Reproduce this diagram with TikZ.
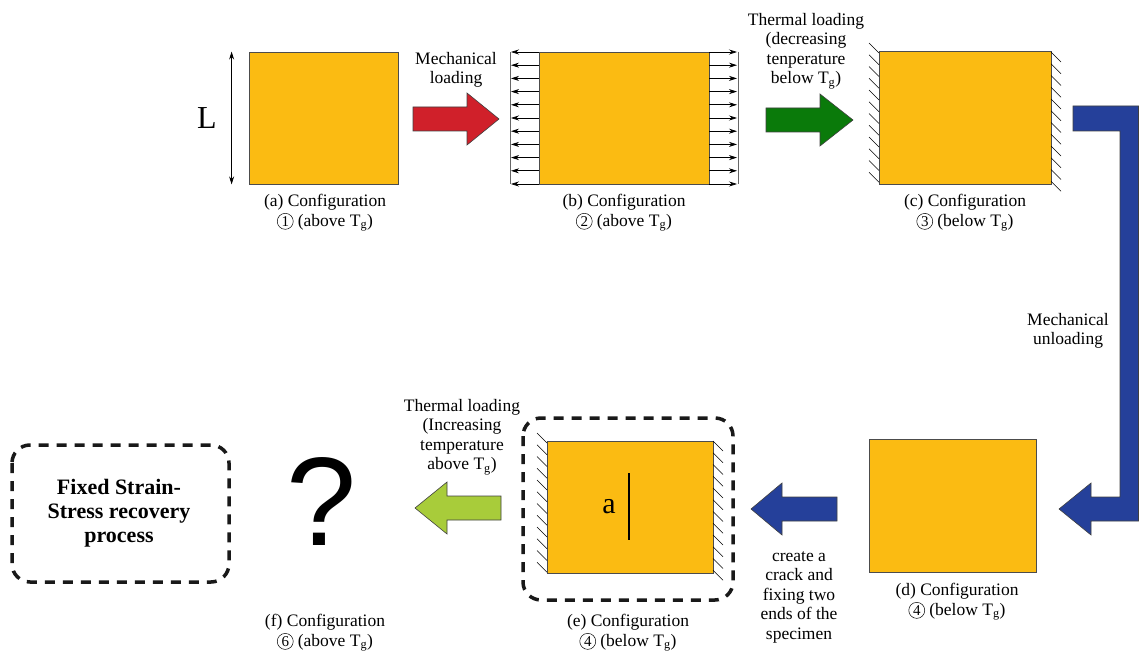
\documentclass[tikz,border=0pt]{standalone}
\usepackage{fontspec}
\setmainfont{Liberation Serif}
\newfontfamily\arialfont{Liberation Sans}
\usetikzlibrary{arrows.meta}
\definecolor{spec}{HTML}{FBBB12}
\definecolor{redarrow}{HTML}{D0202A}
\definecolor{greenarrow}{HTML}{0A7A0A}
\definecolor{lightgreen}{HTML}{A8CC3A}
\definecolor{bluearrow}{HTML}{25409A}
\newcommand{\cnum}[1]{\tikz[baseline=(cn.base)]\node[circle, draw, line width=0.5pt, inner sep=0.6pt, minimum size=16pt, font=\fontsize{15}{15}\selectfont] (cn) {#1};}
\newcommand{\Tg}{T\textsubscript{g}}
\begin{document}
\begin{tikzpicture}[x=1pt,y=-1pt,
  specbox/.style={draw=black!70, line width=0.8pt, fill=spec, inner sep=0pt},
  caption/.style={align=center, font=\fontsize{17.5}{19.5}\selectfont, inner sep=0pt},
  blockarrow/.style={draw=black!75, line width=0.6pt},
  pullarrow/.style={-{Stealth[length=8pt,width=5pt]}, line width=0.7pt},
  hatchline/.style={line width=0.5pt},
  dashedframe/.style={draw=black!90, line width=3.5pt, dash pattern=on 10pt off 8pt, rounded corners=18pt}
]
\useasboundingbox (0,0) rectangle (1139,652);

% specimens
\node[specbox, minimum width=149pt, minimum height=132pt] (a) at (323.5,118) {};
\node[specbox, minimum width=170pt, minimum height=132pt] (b) at (624,118) {};
\node[specbox, minimum width=172pt, minimum height=133pt] (c) at (965,117.5) {};
\node[specbox, minimum width=167pt, minimum height=133pt] (d) at (952.5,505.5) {};
\node[specbox, minimum width=166pt, minimum height=132pt] (e) at (630,507) {};

% L dimension
\draw[{Stealth[length=8pt,width=5pt]}-{Stealth[length=8pt,width=5pt]}, line width=0.7pt]
  ([xshift=-17pt]a.north west) -- ([xshift=-17pt]a.south west);
\node[font=\fontsize{32}{32}\selectfont] (Llab) at (207,118) {L};

% pulling arrows on b
\coordinate (bl) at (510,52);
\coordinate (br) at (738,52);
\draw[black!60, line width=0.8pt] (bl) -- (510,184);
\draw[black!60, line width=0.8pt] (br) -- (738,184);
\foreach \i in {0,...,10}{
  \draw[pullarrow] (539,52+\i*13.2) -- (511,52+\i*13.2);
  \draw[pullarrow] (709,52+\i*13.2) -- (737,52+\i*13.2);
}

% hatching on c
\foreach \i in {0,...,11}{
  \draw[hatchline] (869,43+\i*11.75) -- ++(10,10);
  \draw[hatchline] (1051,52+\i*11.75) -- ++(10,10);
}
% hatching on e
\foreach \i in {0,...,11}{
  \draw[hatchline] (537,433+\i*11.75) -- ++(10,10);
  \draw[hatchline] (713,441+\i*11.75) -- ++(10,10);
}

% crack
\coordinate (ct) at (629,473);
\coordinate (cb) at (629,540);
\draw[line width=1.6pt] (ct) -- (cb);
\node[font=\fontsize{30}{30}\selectfont] (alab) at (609,507) {a};

% dashed frames
\draw[dashedframe] (523,418) rectangle (733,600);
\draw[dashedframe] (12,445) rectangle (229,582);
\node[align=center, font=\fontsize{22}{24}\selectfont\bfseries, inner sep=0pt] (fixed) at (119,513) {Fixed Strain-\\Stress recovery\\process};

% question mark
\node[font=\arialfont\fontsize{126}{126}\selectfont, inner sep=0pt] (q) at (322,502) {?};

% block arrows
\draw[blockarrow, fill=redarrow] (413,107) -- (467,107) -- (467,93) -- (499,119) -- (467,145) -- (467,131) -- (413,131) -- cycle;
\draw[blockarrow, fill=greenarrow] (766,108) -- (820,108) -- (820,94) -- (853,120) -- (820,146) -- (820,132) -- (766,132) -- cycle;
\draw[blockarrow, fill=bluearrow] (837,497) -- (782,497) -- (782,483) -- (751,509) -- (782,535) -- (782,521) -- (837,521) -- cycle;
\draw[blockarrow, fill=lightgreen] (501,496) -- (447,496) -- (447,482) -- (415,508) -- (447,534) -- (447,520) -- (501,520) -- cycle;
\draw[blockarrow, fill=bluearrow] (1073,106) -- (1138.5,106) -- (1138.5,521) -- (1091,521) -- (1091,535) -- (1059,509) -- (1091,483) -- (1091,497) -- (1120,497) -- (1120,131) -- (1073,131) -- cycle;

% labels
\node[caption] (mlab) at (456,70) {Mechanical\\loading};
\node[caption] (tlab1) at (806,51) {Thermal loading\\(decreasing\\tenperature\\below \Tg)};
\node[caption] (ulab) at (1068,331) {Mechanical\\unloading};
\node[caption] (crlab) at (799,597) {create a\\crack and\\fixing two\\ends of the\\specimen};
\node[caption] (tlab2) at (462,437) {Thermal loading\\(Increasing\\temperature\\above \Tg)};

% captions
\node[caption] (capa) at (325,213) {(a) Configuration\\\cnum{1} (above \Tg)};
\node[caption] (capb) at (624,213) {(b) Configuration\\\cnum{2} (above \Tg)};
\node[caption] (capc) at (965,213) {(c) Configuration\\\cnum{3} (below \Tg)};
\node[caption] (capd) at (957,602) {(d) Configuration\\\cnum{4} (below \Tg)};
\node[caption] (cape) at (628,633) {(e) Configuration\\\cnum{4} (below \Tg)};
\node[caption] (capf) at (325,633) {(f) Configuration\\\cnum{6} (above \Tg)};
\end{tikzpicture}
\end{document}
